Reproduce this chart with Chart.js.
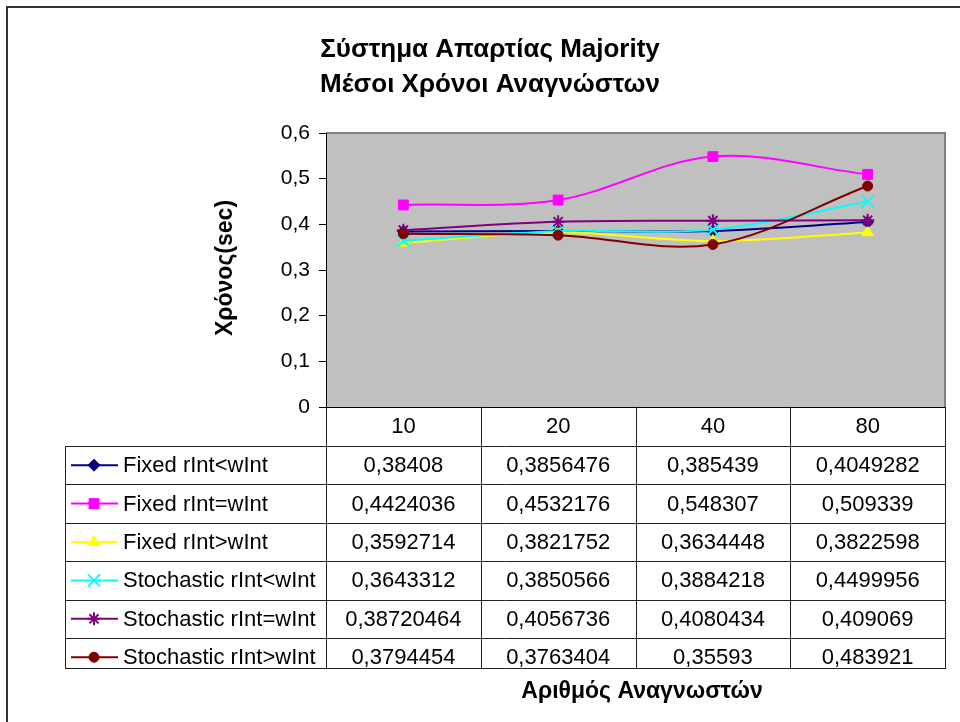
<!DOCTYPE html>
<html>
<head>
<meta charset="utf-8">
<script src="https://cdn.jsdelivr.net/npm/chart.js@4.4.0/dist/chart.umd.min.js"></script>
<style>
  html, body { margin: 0; padding: 0; background: #fff; }
  canvas { display: block; }
</style>
</head>
<body>
<canvas id="chart" width="960" height="722"></canvas>
<script>
// data
const categories = ["10", "20", "40", "80"];
const seriesNames = [
  "Fixed rInt<wInt",
  "Fixed rInt=wInt",
  "Fixed rInt>wInt",
  "Stochastic rInt<wInt",
  "Stochastic rInt=wInt",
  "Stochastic rInt>wInt"
];
const fixedLess = [0.38408, 0.3856476, 0.385439, 0.4049282];
const fixedEqual = [0.4424036, 0.4532176, 0.548307, 0.509339];
const fixedGreater = [0.3592714, 0.3821752, 0.3634448, 0.3822598];
const stochLess = [0.3643312, 0.3850566, 0.3884218, 0.4499956];
const stochEqual = [0.38720464, 0.4056736, 0.4080434, 0.409069];
const stochGreater = [0.3794454, 0.3763404, 0.35593, 0.483921];
const seriesValues = [fixedLess, fixedEqual, fixedGreater, stochLess, stochEqual, stochGreater];

const chartTitle = ["Σύστημα Απαρτίας Majority", "Μέσοι Χρόνοι Αναγνώστων"];
const yTitle = "Χρόνος(sec)";
const xTitle = "Αριθμός Αναγνωστών";

// styling
const colors = ["#000080", "#FF00FF", "#FFFF00", "#00FFFF", "#800080", "#800000"];
const markers = ["rectRot", "rect", "triangle", "crossRot", "star", "circle"];
const markerRadius = [6, 7, 6.5, 8.5, 6.5, 5];
const markerBorder = [1, 1, 1, 2, 2, 1];

const FONT = "'Liberation Sans', Arial, Helvetica, sans-serif";
const rowHeight = 38.4;
const tableLeft = 65;
const tableBottom = 668;

const commaNum = v => String(v).replace(".", ",");

const tablePlugin = {
  id: "tablePlugin",
  beforeDraw(chart) {
    const { ctx, chartArea: a } = chart;
    ctx.save();
    ctx.fillStyle = "#fff";
    ctx.fillRect(0, 0, chart.width, chart.height);
    ctx.fillStyle = "#C0C0C0";
    ctx.fillRect(a.left, a.top, a.right - a.left, a.bottom - a.top);
    ctx.strokeStyle = "#808080";
    ctx.lineWidth = 2;
    ctx.beginPath();
    ctx.moveTo(a.left, a.top);
    ctx.lineTo(a.right, a.top);
    ctx.lineTo(a.right, a.bottom);
    ctx.stroke();
    ctx.restore();
  },
  afterDraw(chart) {
    const { ctx, chartArea: a } = chart;
    const x = chart.scales.x;
    const half = (x.getPixelForValue(1) - x.getPixelForValue(0)) / 2;
    const tableTop = a.bottom + 39;
    ctx.save();

    // outer frame (only top and left are inside the picture)
    ctx.strokeStyle = "#333";
    ctx.lineWidth = 2;
    ctx.beginPath();
    ctx.moveTo(7, chart.height + 5);
    ctx.lineTo(7, 7);
    ctx.lineTo(chart.width + 5, 7);
    ctx.stroke();

    // titles
    ctx.fillStyle = "#000";
    ctx.textAlign = "center";
    ctx.textBaseline = "alphabetic";
    ctx.font = "bold 26px " + FONT;
    ctx.fillText(chartTitle[0], 490, 57);
    ctx.fillText(chartTitle[1], 490, 92);

    ctx.font = "bold 23px " + FONT;
    ctx.fillText(xTitle, 642, 698);
    ctx.save();
    ctx.translate(232, 268);
    ctx.rotate(-Math.PI / 2);
    ctx.fillText(yTitle, 0, 0);
    ctx.restore();

    // table grid
    ctx.strokeStyle = "#222";
    ctx.lineWidth = 1;
    ctx.beginPath();
    categories.forEach((c, i) => {
      const px = Math.round(x.getPixelForValue(i) + half) + 0.5;
      ctx.moveTo(px, a.bottom);
      ctx.lineTo(px, tableBottom);
    });
    const lx = Math.round(a.left) + 0.5;
    ctx.moveTo(lx, a.bottom);
    ctx.lineTo(lx, tableBottom);
    ctx.moveTo(tableLeft + 0.5, tableTop);
    ctx.lineTo(tableLeft + 0.5, tableBottom);
    for (let r = 0; r < seriesNames.length; r++) {
      const y = Math.round(tableTop + r * rowHeight) + 0.5;
      ctx.moveTo(tableLeft, y);
      ctx.lineTo(a.right + 1, y);
    }
    ctx.moveTo(tableLeft, tableBottom + 0.5);
    ctx.lineTo(a.right + 1, tableBottom + 0.5);
    ctx.stroke();

    // rows: legend key, name, values
    ctx.font = "22px " + FONT;
    ctx.textBaseline = "middle";
    seriesNames.forEach((name, r) => {
      const cy = tableTop + r * rowHeight + rowHeight / 2;
      ctx.strokeStyle = colors[r];
      ctx.fillStyle = colors[r];
      ctx.lineWidth = 2;
      ctx.beginPath();
      ctx.moveTo(71, cy);
      ctx.lineTo(118, cy);
      ctx.stroke();
      ctx.lineWidth = markerBorder[r];
      Chart.helpers.drawPoint(ctx, {
        pointStyle: markers[r],
        radius: markerRadius[r],
        rotation: 0,
        borderWidth: markerBorder[r]
      }, 94, cy);

      ctx.fillStyle = "#000";
      ctx.textAlign = "left";
      ctx.fillText(name, 123, cy + 1);
      ctx.textAlign = "center";
      seriesValues[r].forEach((v, i) => {
        ctx.fillText(commaNum(v), x.getPixelForValue(i), cy + 1);
      });
    });
    ctx.restore();
  }
};

new Chart(document.getElementById("chart"), {
  type: "line",
  data: {
    labels: categories,
    datasets: seriesNames.map((name, i) => ({
      label: name,
      data: seriesValues[i],
      borderColor: colors[i],
      backgroundColor: colors[i],
      borderWidth: 2,
      pointStyle: markers[i],
      pointRadius: markerRadius[i],
      pointBorderWidth: markerBorder[i],
      tension: 0.35,
      fill: false,
      order: -i
    }))
  },
  options: {
    responsive: false,
    devicePixelRatio: 1,
    animation: false,
    layout: { padding: { left: 266, top: 133, right: 15, bottom: 276 } },
    plugins: {
      legend: { display: false },
      tooltip: { enabled: false },
      title: { display: false }
    },
    scales: {
      x: {
        type: "category",
        offset: true,
        grid: { display: false, drawTicks: false },
        border: { display: true, color: "#000", width: 1 },
        ticks: { color: "#000", font: { family: FONT, size: 22 }, padding: 7, maxRotation: 0 },
        afterFit(s) { s.height = 39; }
      },
      y: {
        min: 0,
        max: 0.6,
        ticks: {
          stepSize: 0.1,
          color: "#000",
          font: { family: FONT, size: 21 },
          padding: 9,
          callback: v => (v === 0 ? "0" : v.toFixed(1).replace(".", ","))
        },
        grid: { drawOnChartArea: false, drawTicks: true, tickLength: 7, color: "#000" },
        border: { display: true, color: "#000", width: 1 },
        afterFit(s) { s.width = 60; }
      }
    }
  },
  plugins: [tablePlugin]
});
</script>
</body>
</html>
